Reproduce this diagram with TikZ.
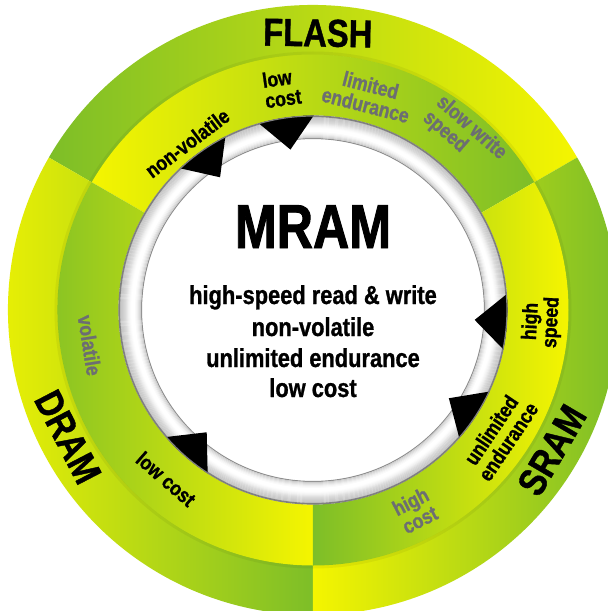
\documentclass[tikz,border=0pt]{standalone}
\usepackage{fontspec}
\setmainfont{Liberation Sans}
\newfontfamily\condfont{Liberation Sans}[FakeStretch=0.84, FakeBold=1.0]
\newfontfamily\mramfont{Liberation Sans}[FakeStretch=0.81, FakeBold=1.5]
\definecolor{bandgreen}{RGB}{125,190,40}
\definecolor{bandyellow}{RGB}{245,245,0}
\definecolor{labgray}{RGB}{108,110,114}
\tikzset{
  outerlab/.style={font=\condfont\bfseries\fontsize{39}{39}\selectfont, inner sep=0pt, text=black},
  bandlab/.style={font=\condfont\bfseries\fontsize{21}{20.5}\selectfont, align=center, inner sep=0pt},
  graylab/.style={bandlab, text=labgray},
  blacklab/.style={bandlab, text=black},
  centerline/.style={font=\condfont\bfseries\fontsize{26}{26}\selectfont, anchor=base, inner sep=0pt},
  pointer/.style={fill=black},
}
\begin{document}
\begin{tikzpicture}
\useasboundingbox (-313pt,-301pt) rectangle (295pt,310pt);
\fill[white] (-313pt,-301pt) rectangle (295pt,310pt);
\clip (-313pt,-301pt) rectangle (295pt,310pt);

% white core
\fill[white] (0,0) circle[radius=172pt];
% grey tube ring
\foreach \r/\w in {171.5/55,172.5/80,173.5/85,174.5/89,175.5/93,176.5/96,177.5/98,178.5/100,179.5/100,180.5/100,181.5/100,182.5/99,183.5/97,184.5/95,185.5/92,186.5/89,187.5/86,188.5/84,189.5/82,190.5/80,191.5/79,192.5/77,193.5/50}
  \draw[line width=1.1pt, white!\w!black] (0,0) circle[radius=\r pt];

% pointers
\foreach \a in {125,98,-3.5,-33,229}
  \fill[pointer] ({\a-8.7}:197pt) -- (\a:162pt) -- ({\a+8.7}:197pt) -- cycle;

% bands
% FLASH
\shade[left color=bandgreen, right color=bandyellow] (30:305pt) arc[start angle=30,end angle=150,radius=305pt] -- (150:255pt) arc[start angle=150,end angle=30,radius=255pt] -- cycle;
\shade[left color=bandyellow, right color=bandgreen] (30:255.5pt) arc[start angle=30,end angle=150,radius=255.5pt] -- (150:194.5pt) arc[start angle=150,end angle=30,radius=194.5pt] -- cycle;
% DRAM
\shade[left color=bandyellow, right color=bandgreen] (150:305pt) arc[start angle=150,end angle=270,radius=305pt] -- (270:255pt) arc[start angle=270,end angle=150,radius=255pt] -- cycle;
\shade[left color=bandgreen, right color=bandyellow] (150:255.5pt) arc[start angle=150,end angle=270,radius=255.5pt] -- (270:194.5pt) arc[start angle=270,end angle=150,radius=194.5pt] -- cycle;
% SRAM
\shade[left color=bandyellow, right color=bandgreen] (270:305pt) arc[start angle=270,end angle=390,radius=305pt] -- (390:255pt) arc[start angle=390,end angle=270,radius=255pt] -- cycle;
\shade[left color=bandgreen, right color=bandyellow] (270:255.5pt) arc[start angle=270,end angle=390,radius=255.5pt] -- (390:194.5pt) arc[start angle=390,end angle=270,radius=194.5pt] -- cycle;
% soft rim between bands
\draw[line width=3pt, black, opacity=0.05] (0,0) circle[radius=257pt];
\draw[line width=1.2pt, white!50!black] (0,0) circle[radius=194pt];

% outer labels
\node[outerlab, rotate=-1] (flash) at (89:277pt) {FLASH};
\node[outerlab, rotate=-62.6] (dram) at (207.4:276pt) {DRAM};
\node[outerlab, rotate=59.6] (sram) at (-30.4:277pt) {SRAM};

% band labels
\node[blacklab, rotate=37] (nonvol) at (127:209pt) {non-volatile};
\node[blacklab, rotate=8, align=left] (flashcost) at (98:224pt) {low\\cost};
\node[graylab, rotate=-14.4] (limend) at (75.6:222pt) {limited\\endurance};
\node[graylab, rotate=-41, align=left] (slowwrite) at (49:231pt) {slow write\\speed};
\node[blacklab, rotate=87] (highspeed) at (-3:229pt) {high\\speed};
\node[blacklab, rotate=56] (unlim) at (-34:225pt) {unlimited\\endurance};
\node[graylab, rotate=27] (highcost) at (-63:225pt) {high\\cost};
\node[graylab, rotate=-81] (volatile) at (189:226pt) {volatile};
\node[blacklab, rotate=-41] (dramcost) at (229:224pt) {low cost};

% centre text
\node[font=\mramfont\bfseries\fontsize{62}{62}\selectfont, anchor=base, inner sep=0pt] (mram) at (0pt,62pt) {MRAM};
\node[centerline] (l1) at (0pt,6pt) {high-speed read \& write};
\node[centerline] (l2) at (0pt,-26pt) {non-volatile};
\node[centerline] (l3) at (0pt,-57pt) {unlimited endurance};
\node[centerline] (l4) at (0pt,-87pt) {low cost};
\end{tikzpicture}
\end{document}
